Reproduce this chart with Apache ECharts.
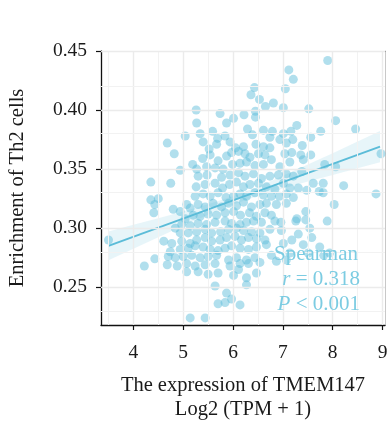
<!DOCTYPE html>
<html><head><meta charset="utf-8">
<script src="https://cdn.jsdelivr.net/npm/echarts@6/dist/echarts.min.js"></script>
<style>html,body{margin:0;padding:0;background:#fff}#c{width:388px;height:423px}</style>
</head><body><div id="c"></div>
<script>
// TMEM147 expression (x) vs Th2 enrichment (y)
const samples = [
[7.90,0.442],[7.12,0.434],[7.21,0.426],[6.43,0.419],[6.36,0.413],[6.53,0.409],[7.05,0.418],
[6.81,0.406],[6.65,0.403],[7.01,0.402],[7.52,0.401],[5.26,0.400],[5.74,0.397],[6.01,0.393],
[6.22,0.396],[6.45,0.399],[6.45,0.394],[5.87,0.389],[5.27,0.389],[8.06,0.391],
[5.04,0.378],[5.34,0.380],[5.59,0.382],[5.69,0.376],[5.84,0.378],[6.29,0.384],[6.39,0.379],
[6.61,0.383],[6.79,0.382],[6.74,0.377],[7.01,0.380],[7.16,0.382],[7.28,0.387],[7.76,0.382],[8.46,0.384],
[4.68,0.372],[4.82,0.363],[5.40,0.373],[5.52,0.367],[5.67,0.371],[5.94,0.373],[6.05,0.368],
[6.21,0.369],[6.46,0.371],[6.61,0.369],[6.74,0.368],[6.94,0.375],[7.07,0.372],[7.20,0.375],
[7.39,0.370],[7.56,0.377],
[5.19,0.354],[5.39,0.359],[5.54,0.362],[5.70,0.357],[5.87,0.361],[5.97,0.364],[6.11,0.365],
[6.24,0.363],[6.34,0.360],[6.51,0.363],[6.64,0.362],[6.77,0.358],[7.04,0.363],[7.18,0.364],
[7.36,0.362],[7.56,0.362],[8.97,0.363],
[4.94,0.349],[5.27,0.350],[5.47,0.352],[5.64,0.351],[5.80,0.350],[5.99,0.354],[6.14,0.355],
[6.27,0.356],[6.44,0.353],[6.61,0.354],[6.94,0.352],[7.14,0.356],[7.41,0.358],[7.84,0.354],[8.06,0.352],
[4.35,0.339],[4.75,0.338],[5.30,0.344],[5.48,0.345],[5.77,0.343],[5.94,0.345],[6.11,0.347],
[6.24,0.344],[6.41,0.346],[6.57,0.342],[6.74,0.344],[6.91,0.345],[7.07,0.346],[7.21,0.344],[7.38,0.348],
[5.26,0.335],[5.44,0.337],[5.64,0.338],[5.79,0.334],[5.93,0.337],[6.07,0.339],[6.21,0.335],
[6.34,0.337],[6.51,0.338],[6.67,0.335],[6.84,0.333],[7.01,0.338],[7.14,0.334],[7.31,0.334],
[7.48,0.332],[7.61,0.338],[7.81,0.338],[8.22,0.336],
[4.35,0.324],[4.50,0.325],[4.43,0.320],[4.41,0.313],[5.07,0.320],[5.24,0.327],[5.40,0.329],
[5.54,0.327],[5.70,0.330],[5.86,0.326],[6.01,0.327],[6.14,0.329],[6.27,0.327],[6.44,0.330],
[6.61,0.328],[6.77,0.327],[6.93,0.327],[7.07,0.329],[7.21,0.326],[7.73,0.331],[7.81,0.330],[8.87,0.329],
[4.80,0.316],[4.94,0.314],[5.14,0.317],[5.30,0.320],[5.44,0.318],[5.60,0.321],[5.77,0.318],
[5.91,0.321],[6.07,0.319],[6.21,0.322],[6.37,0.318],[6.54,0.320],[6.67,0.321],[6.87,0.320],
[7.07,0.321],[8.03,0.320],
[5.04,0.308],[5.20,0.311],[5.34,0.310],[5.50,0.312],[5.67,0.311],[5.84,0.313],[6.01,0.314],
[6.15,0.311],[6.33,0.313],[6.47,0.310],[6.64,0.313],[6.77,0.311],[7.28,0.308],[7.46,0.314],[7.46,0.307],
[4.84,0.300],[4.97,0.303],[5.14,0.302],[5.30,0.304],[5.47,0.303],[5.64,0.305],[5.84,0.306],
[5.97,0.304],[6.14,0.303],[6.27,0.305],[6.41,0.306],[6.57,0.305],[6.84,0.306],[6.96,0.305],
[7.26,0.306],[7.89,0.306],
[4.94,0.296],[5.10,0.296],[5.27,0.297],[5.44,0.299],[5.57,0.296],[5.75,0.297],[5.91,0.299],
[6.07,0.300],[6.21,0.298],[6.37,0.297],[6.54,0.296],[6.74,0.299],[6.97,0.298],[7.54,0.300],
[3.50,0.290],[4.61,0.289],[4.77,0.287],[4.97,0.289],[5.14,0.287],[5.27,0.290],[5.44,0.292],
[5.57,0.289],[5.74,0.290],[5.87,0.292],[6.04,0.293],[6.17,0.290],[6.31,0.292],[6.47,0.291],
[6.64,0.290],[7.18,0.290],[7.31,0.295],[7.58,0.292],
[4.74,0.280],[4.94,0.282],[5.10,0.283],[5.24,0.285],[5.40,0.284],[5.54,0.282],[5.70,0.281],
[5.84,0.283],[5.97,0.285],[6.14,0.283],[6.31,0.282],[6.47,0.284],[6.67,0.286],[7.01,0.287],
[7.41,0.286],[7.74,0.284],[7.82,0.277],
[4.43,0.274],[4.70,0.276],[4.84,0.275],[5.00,0.276],[5.17,0.277],[5.34,0.275],[5.50,0.276],
[5.67,0.277],[5.91,0.273],[6.07,0.275],[6.27,0.273],[6.44,0.275],[6.77,0.277],[7.14,0.279],
[7.51,0.279],[7.94,0.279],
[4.22,0.268],[4.68,0.269],[4.88,0.268],[5.07,0.270],[5.24,0.268],[5.44,0.269],[5.64,0.270],
[5.94,0.268],[6.14,0.270],[6.31,0.270],[6.54,0.271],[6.87,0.272],[7.07,0.273],
[5.07,0.263],[5.30,0.263],[5.50,0.261],[5.70,0.262],[6.01,0.260],[6.11,0.265],[6.27,0.258],[6.47,0.262],
[5.64,0.251],[5.87,0.245],[6.27,0.252],[5.70,0.236],[5.84,0.237],[5.97,0.240],[6.14,0.235],
[5.14,0.224],[5.44,0.224]
];
const xTicks = [4, 5, 6, 7, 8, 9];
const yTicks = [0.25, 0.30, 0.35, 0.40, 0.45];
const xMinorGrid = [3.5, 4.5, 5.5, 6.5, 7.5, 8.5];
const yMinorGrid = [0.225, 0.275, 0.325, 0.375, 0.425];
const fitX = [3.5, 8.95];
const fitY = [0.285, 0.369];
const bandX    = [3.5,    4.0,    4.5,    5.0,    5.5,    6.0,    6.5,    7.0,    7.5,    8.0,    8.5,    8.95];
const bandLow  = [0.2728, 0.2826, 0.2924, 0.3020, 0.3114, 0.3200, 0.3273, 0.3336, 0.3394, 0.3451, 0.3507, 0.3557];
const bandHigh = [0.2972, 0.3028, 0.3084, 0.3142, 0.3202, 0.3270, 0.3351, 0.3443, 0.3538, 0.3635, 0.3734, 0.3823];
const statLines = ['Spearman', 'r = 0.318', 'P < 0.001'];

const FONT = '"Liberation Serif", "DejaVu Serif", serif';
const TXT = '#7ccce2';
const chart = echarts.init(document.getElementById('c'), null, {renderer: 'canvas'});

const gridLines = [];
xTicks.forEach(v => gridLines.push({xAxis: v, lineStyle: {color: '#ebebeb', width: 1.4, type: 'solid'}}));
xMinorGrid.forEach(v => gridLines.push({xAxis: v, lineStyle: {color: '#f2f2f2', width: 1, type: 'solid'}}));
yTicks.forEach(v => gridLines.push({yAxis: v, lineStyle: {color: '#ebebeb', width: 1.4, type: 'solid'}}));
yMinorGrid.forEach(v => gridLines.push({yAxis: v, lineStyle: {color: '#f2f2f2', width: 1, type: 'solid'}}));

const rich = {i: {fontStyle: 'italic', fontFamily: FONT, fontSize: 21, fill: TXT}};
function statText(s) {
  return s.replace(/^(r|P) /, '{i|$1} ');
}

chart.setOption({
  animation: false,
  backgroundColor: '#fff',
  grid: {left: 101, right: 3, top: 51, bottom: 98, containLabel: false, outerBoundsMode: 'none'},
  xAxis: [{
    type: 'value', min: 3.35, max: 9.05,
    name: 'The expression of TMEM147\nLog2 (TPM + 1)',
    nameLocation: 'middle', nameGap: 49,
    nameTextStyle: {fontFamily: FONT, fontSize: 20.5, color: '#1a1a1a', lineHeight: 24},
    axisLine: {show: true, onZero: false, lineStyle: {color: '#111', width: 1.3}},
    axisTick: {show: true, customValues: xTicks, length: 5, lineStyle: {color: '#111', width: 1.2}},
    axisLabel: {customValues: xTicks, fontFamily: FONT, fontSize: 19.5, color: '#1a1a1a', margin: 18},
    splitLine: {show: false}
  }, {
    type: 'value', position: 'top', min: 3.35, max: 9.05,
    axisLine: {show: true, onZero: false, lineStyle: {color: '#666', width: 1}},
    axisTick: {show: false}, axisLabel: {show: false}, splitLine: {show: false}
  }],
  yAxis: [{
    type: 'value', min: 0.218, max: 0.45,
    name: 'Enrichment of Th2 cells',
    nameLocation: 'middle', nameGap: 73,
    nameTextStyle: {fontFamily: FONT, fontSize: 20.5, color: '#1a1a1a'},
    axisLine: {show: true, onZero: false, lineStyle: {color: '#111', width: 1.3}},
    axisTick: {show: true, customValues: yTicks, length: 5, lineStyle: {color: '#111', width: 1.2}},
    axisLabel: {customValues: yTicks, fontFamily: FONT, fontSize: 19.5, color: '#1a1a1a', margin: 14,
      formatter: v => v.toFixed(2)},
    splitLine: {show: false}
  }, {
    type: 'value', position: 'right', min: 0.218, max: 0.45,
    axisLine: {show: true, onZero: false, lineStyle: {color: '#c8c8c8', width: 1}},
    axisTick: {show: false}, axisLabel: {show: false}, splitLine: {show: false}
  }],
  series: [
    {
      type: 'custom', z: 1, silent: true,
      data: [[bandX[0], bandLow[0]]],
      renderItem: (params, api) => {
        const pts = [];
        for (let i = 0; i < bandX.length; i++) pts.push(api.coord([bandX[i], bandHigh[i]]));
        for (let i = bandX.length - 1; i >= 0; i--) pts.push(api.coord([bandX[i], bandLow[i]]));
        return {type: 'polygon', shape: {points: pts}, style: {fill: 'rgba(110,197,222,0.17)'}};
      },
      markLine: {silent: true, symbol: 'none', label: {show: false}, animation: false, data: gridLines}
    },
    {
      type: 'scatter', z: 3, symbolSize: 9,
      data: samples,
      itemStyle: {color: '#5bbdd9', opacity: 0.48}
    },
    {
      type: 'line', z: 4, symbol: 'none',
      data: fitX.map((x, i) => [x, fitY[i]]),
      lineStyle: {color: '#5bbcd8', width: 2}
    }
  ],
  graphic: statLines.map((s, i) => ({
    type: 'text', z: 10, silent: true,
    style: {
      x: i === 0 ? 358 : 360, y: 254 + i * 25,
      text: statText(s), textAlign: 'right', textVerticalAlign: 'middle',
      fill: TXT, font: '21px ' + FONT, rich: rich
    }
  }))
});
</script></body></html>
